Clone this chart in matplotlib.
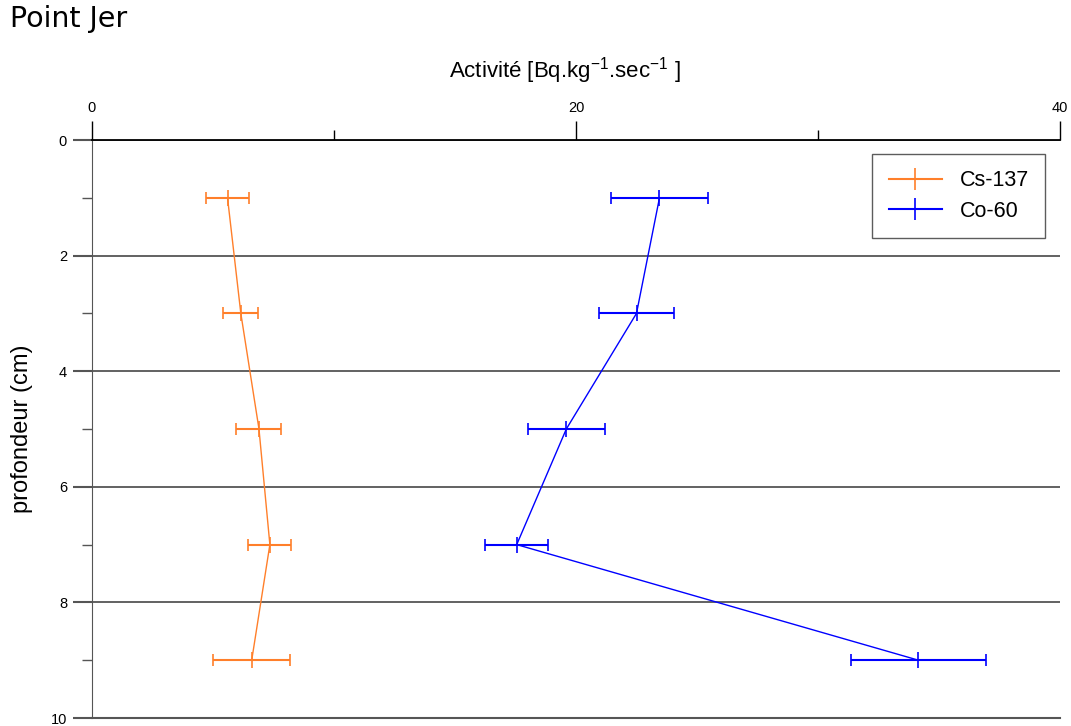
import matplotlib.pyplot as plt
from matplotlib.ticker import MultipleLocator
from matplotlib.lines import Line2D

plt.rcParams['font.family'] = ['Liberation Sans', 'DejaVu Sans']
plt.rcParams['mathtext.fontset'] = 'custom'
plt.rcParams['mathtext.rm'] = 'Liberation Sans'

depth = [1, 3, 5, 7, 9]
cs137 = [5.6, 6.15, 6.9, 7.35, 6.6]
cs137_err = [0.9, 0.72, 0.93, 0.89, 1.6]
co60 = [23.45, 22.5, 19.6, 17.55, 34.15]
co60_err = [2.0, 1.53, 1.6, 1.3, 2.8]

cs_col = '#ff7f2a'
co_col = '#0000ff'

fig = plt.figure(figsize=(10.71, 7.26), dpi=100)
ax = fig.add_axes([92/1071, 8/726, 968/1071, 578/726])

ax.errorbar(cs137, depth, xerr=cs137_err, color=cs_col, lw=1, marker='|',
            ms=11, mew=1.2, capsize=4, capthick=1, elinewidth=1.5)
ax.errorbar(co60, depth, xerr=co60_err, color=co_col, lw=1, marker='|',
            ms=11, mew=1.2, capsize=4, capthick=1, elinewidth=1.5)

ax.set_xlim(0, 40)
ax.set_ylim(10, 0)
ax.xaxis.tick_top()
ax.xaxis.set_major_locator(MultipleLocator(20))
ax.xaxis.set_minor_locator(MultipleLocator(10))
ax.yaxis.set_major_locator(MultipleLocator(2))
ax.yaxis.set_minor_locator(MultipleLocator(1))
ax.tick_params(axis='x', which='major', length=14, width=1, labelsize=10.5, pad=4)
ax.tick_params(axis='x', which='minor', length=7, width=1)
ax.tick_params(axis='y', which='major', length=14, width=1.5, color='#555555', labelsize=10.5, pad=4)
ax.tick_params(axis='y', which='minor', length=7, width=1, color='#555555')
ax.grid(axis='y', which='major', color='#555555', lw=1.3)
ax.spines['right'].set_visible(False)
ax.spines['left'].set_color('#555555')
ax.spines['bottom'].set_color('#555555')
ax.spines['bottom'].set_linewidth(1.5)
ax.spines['top'].set_linewidth(1.3)

ax.set_ylabel('profondeur (cm)', fontsize=17, va='center')
ax.yaxis.set_label_coords(-(92 - 22) / 968, 0.5)
ax.set_xlabel(r'Activité [Bq.kg$^{-1}$.sec$^{-1}$ ]', fontsize=16, va='center')
ax.xaxis.set_label_position('top')
ax.xaxis.set_label_coords((565 - 92) / 968, (718 - 77) / 578)

handles = [Line2D([], [], color=cs_col, lw=1.5, marker='|', ms=16, mew=1.2),
           Line2D([], [], color=co_col, lw=1.5, marker='|', ms=16, mew=1.2)]
leg = ax.legend(handles, ['Cs-137', 'Co-60'], loc='upper right',
                bbox_to_anchor=((1045 - 92) / 968, (718 - 154) / 578),
                borderaxespad=0, fontsize=15.5,
                frameon=True, fancybox=False, edgecolor='#333333',
                handlelength=2.5, borderpad=0.75, labelspacing=0.45,
                handletextpad=0.8)
leg.get_frame().set_linewidth(1)

fig.text(10/1071, 1 - 19/726, 'Point Jer', fontsize=20.5, family='DejaVu Sans', va='center')

fig.savefig('out.png', dpi=100)
